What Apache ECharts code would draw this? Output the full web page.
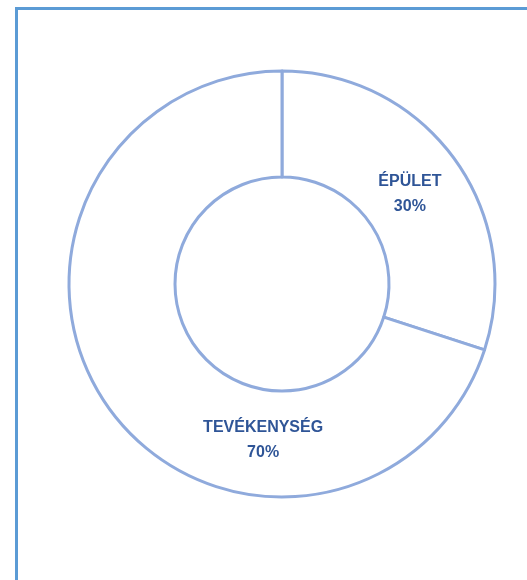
<!DOCTYPE html>
<html><head><meta charset="utf-8">
<script src="https://cdn.jsdelivr.net/npm/echarts@6/dist/echarts.min.js"></script>
<style>html,body{margin:0;padding:0;background:#fff}#c{width:527px;height:580px}</style>
</head><body><div id="c"></div>
<script>
const categories = ['ÉPÜLET', 'TEVÉKENYSÉG'];
const values = [30, 70];
const labelOffsets = [[-4, 6], [113, 60]];

const chart = echarts.init(document.getElementById('c'), null, {renderer: 'canvas'});
chart.setOption({
  animation: false,
  graphic: [{
    type: 'polyline',
    shape: {points: [[16.5, 580], [16.5, 8.5], [527, 8.5]]},
    style: {stroke: '#5b9bd5', lineWidth: 3, fill: null}
  }],
  series: [{
    type: 'pie',
    center: [282, 284],
    radius: [107, 213],
    startAngle: 90,
    clockwise: true,
    data: categories.map((n, i) => ({name: n, value: values[i]})),
    itemStyle: {color: '#ffffff', borderColor: '#8faadc', borderWidth: 3},
    label: {
      show: true,
      position: 'inside',
      formatter: p => p.name + '\n' + p.percent + '%',
      color: '#2f5597',
      fontFamily: 'Liberation Sans',
      fontWeight: 'bold',
      fontSize: 16,
      lineHeight: 25
    },
    labelLayout: p => ({dx: labelOffsets[p.dataIndex][0], dy: labelOffsets[p.dataIndex][1]}),
    emphasis: {disabled: true}
  }]
});
</script></body></html>
